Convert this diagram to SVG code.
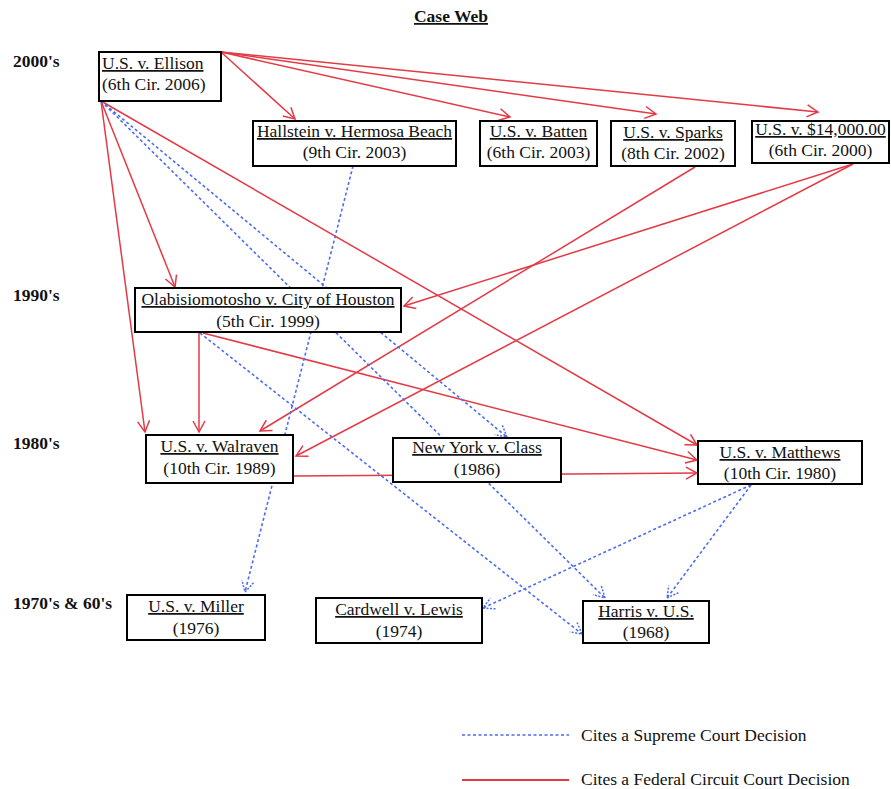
<svg xmlns="http://www.w3.org/2000/svg" width="891" height="789" viewBox="0 0 891 789">
<style>
text{font-family:"Liberation Serif","Times New Roman",serif;font-size:17.5px;fill:#111}
.b{font-weight:bold}
.u{text-decoration:underline}
.c{text-anchor:middle}
.box{fill:#fff;stroke:#000;stroke-width:2}
.red{fill:none;stroke:#e33a46;stroke-width:1.5;marker-end:url(#ar)}
.blue{fill:none;stroke:#4c6cf2;stroke-width:1.6;stroke-dasharray:3 2.5;marker-end:url(#ab)}
</style>
<defs>
<marker id="ar" markerUnits="userSpaceOnUse" markerWidth="14" markerHeight="14" refX="11" refY="6" orient="auto" overflow="visible">
<path d="M0,0 L11,6 L0,12" fill="none" stroke="#e33a46" stroke-width="1.5"/>
</marker>
<marker id="ab" markerUnits="userSpaceOnUse" markerWidth="14" markerHeight="14" refX="11" refY="6" orient="auto" overflow="visible">
<path d="M0,0 L11,6 L0,12" fill="none" stroke="#4c6cf2" stroke-width="1.5" stroke-dasharray="2 1.5"/>
</marker>
</defs>
<rect width="891" height="789" fill="#fff"/>
<text class="b u c" x="451" y="22">Case Web</text>
<g id="eras">
<text class="b" x="13" y="67">2000's</text>
<text class="b" x="13" y="301">1990's</text>
<text class="b" x="13" y="449">1980's</text>
<text class="b" x="13" y="609">1970's &amp; 60's</text>
</g>
<g id="connectors">
<path class="red" d="M221,52 L295,119"/>
<path class="red" d="M221,52 L510,117"/>
<path class="red" d="M221,52 L656,114"/>
<path class="red" d="M221,52 L818,112"/>
<path class="red" d="M101,101 L175,287"/>
<path class="red" d="M101,101 L145,432"/>
<path class="red" d="M101,101 L697,445"/>
<path class="red" d="M199,333 L199,432"/>
<path class="red" d="M203,333 L697,460"/>
<path class="red" d="M293,476 L697,473"/>
<path class="red" d="M695,167 L260,431"/>
<path class="red" d="M853,164 L404,306"/>
<path class="red" d="M853,164 L296,456"/>
<path class="blue" d="M101,101 L507,437"/>
<path class="blue" d="M101,101 L605,598"/>
<path class="blue" d="M353,166 L245,592"/>
<path class="blue" d="M200,333 L582,634"/>
<path class="blue" d="M751,485 L483,608"/>
<path class="blue" d="M751,485 L667,598"/>
</g>
<g id="ellison"><rect class="box" x="99" y="52" width="122" height="49"/><text class="u" x="102" y="69">U.S. v. Ellison</text><text x="102" y="90">(6th Cir. 2006)</text></g>
<g id="hallstein"><rect class="box" x="253" y="121" width="203" height="45"/><text class="u c" x="354.5" y="137">Hallstein v. Hermosa Beach</text><text class="c" x="354.5" y="158">(9th Cir. 2003)</text></g>
<g id="batten"><rect class="box" x="480" y="121" width="117" height="45"/><text class="u c" x="538.5" y="137">U.S. v. Batten</text><text class="c" x="538.5" y="158">(6th Cir. 2003)</text></g>
<g id="sparks"><rect class="box" x="611" y="121" width="124" height="45"/><text class="u c" x="673" y="138">U.S. v. Sparks</text><text class="c" x="673" y="159">(8th Cir. 2002)</text></g>
<g id="fourteen"><rect class="box" x="752" y="121" width="137" height="42"/><text class="u c" x="820.5" y="135">U.S. v. $14,000.00</text><text class="c" x="820.5" y="156">(6th Cir. 2000)</text></g>
<g id="olabisiomotosho"><rect class="box" x="135" y="288" width="266" height="44"/><text class="u c" x="268" y="305">Olabisiomotosho v. City of Houston</text><text class="c" x="268" y="327">(5th Cir. 1999)</text></g>
<g id="walraven"><rect class="box" x="146" y="435" width="147" height="48"/><text class="u c" x="219.5" y="452">U.S. v. Walraven</text><text class="c" x="219.5" y="474">(10th Cir. 1989)</text></g>
<g id="nyclass"><rect class="box" x="393" y="438" width="168" height="44"/><text class="u c" x="477" y="453">New York v. Class</text><text class="c" x="477" y="475">(1986)</text></g>
<g id="matthews"><rect class="box" x="698" y="441" width="164" height="43"/><text class="u c" x="780" y="458">U.S. v. Matthews</text><text class="c" x="780" y="479">(10th Cir. 1980)</text></g>
<g id="miller"><rect class="box" x="127" y="595" width="138" height="45"/><text class="u c" x="196" y="612">U.S. v. Miller</text><text class="c" x="196" y="634">(1976)</text></g>
<g id="cardwell"><rect class="box" x="316" y="598" width="166" height="45"/><text class="u c" x="399" y="615">Cardwell v. Lewis</text><text class="c" x="399" y="637">(1974)</text></g>
<g id="harris"><rect class="box" x="583" y="601" width="126" height="42"/><text class="u c" x="646" y="617">Harris v. U.S.</text><text class="c" x="646" y="638">(1968)</text></g>
<g id="legend">
<path d="M462,735 L569,735" stroke="#4c6cf2" stroke-width="1.6" stroke-dasharray="3 2.5" fill="none"/>
<text x="581" y="741">Cites a Supreme Court Decision</text>
<path d="M462,780 L569,780" stroke="#e33a46" stroke-width="2" fill="none"/>
<text x="581" y="785">Cites a Federal Circuit Court Decision</text>
</g>
</svg>
